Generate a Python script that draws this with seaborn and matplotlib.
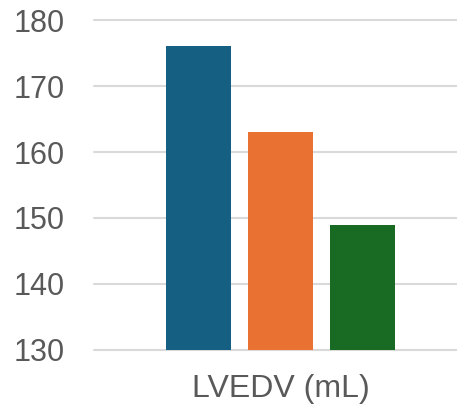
import matplotlib
matplotlib.use("Agg")
import matplotlib.pyplot as plt
import seaborn as sns
import pandas as pd

# Values for the single measure, one bar per group
groups = ["Group A", "Group B", "Group C"]
values = [176, 163, 149]
category = "LVEDV (mL)"
colors = ["#156082", "#E97132", "#196B24"]

sns.set_style("white")
plt.rcParams["font.family"] = ["Liberation Sans", "DejaVu Sans"]

df = pd.DataFrame({
    "measure": [category] * len(groups),
    "group": groups,
    "value": values,
})

fig = plt.figure(figsize=(4.57, 4.08), dpi=100)
ax = fig.add_axes([94 / 457, 58 / 408, 363 / 457, 330 / 408])

sns.barplot(
    data=df, x="measure", y="value", hue="group",
    palette=colors, width=0.66, gap=0.2, legend=False,
    saturation=1, linewidth=0, ax=ax, zorder=3,
)

ax.set_ylim(130, 180)
ax.set_xlim(-0.5, 0.473)
ax.set_yticks(range(130, 181, 10))

# horizontal grid lines running to the right edge of the figure
for y in range(130, 181, 10):
    ax.axhline(y, xmin=0, xmax=1.1, color="#d9d9d9", linewidth=1.5,
               zorder=0, clip_on=False)

for side in ["left", "right", "top", "bottom"]:
    ax.spines[side].set_visible(False)

ax.tick_params(axis="y", length=0, pad=21, labelsize=22, labelcolor="#595959")
ax.tick_params(axis="x", length=0, pad=17, labelsize=23, labelcolor="#595959")
ax.set_xlabel("")
ax.set_ylabel("")

fig.savefig("out.png", dpi=100)
